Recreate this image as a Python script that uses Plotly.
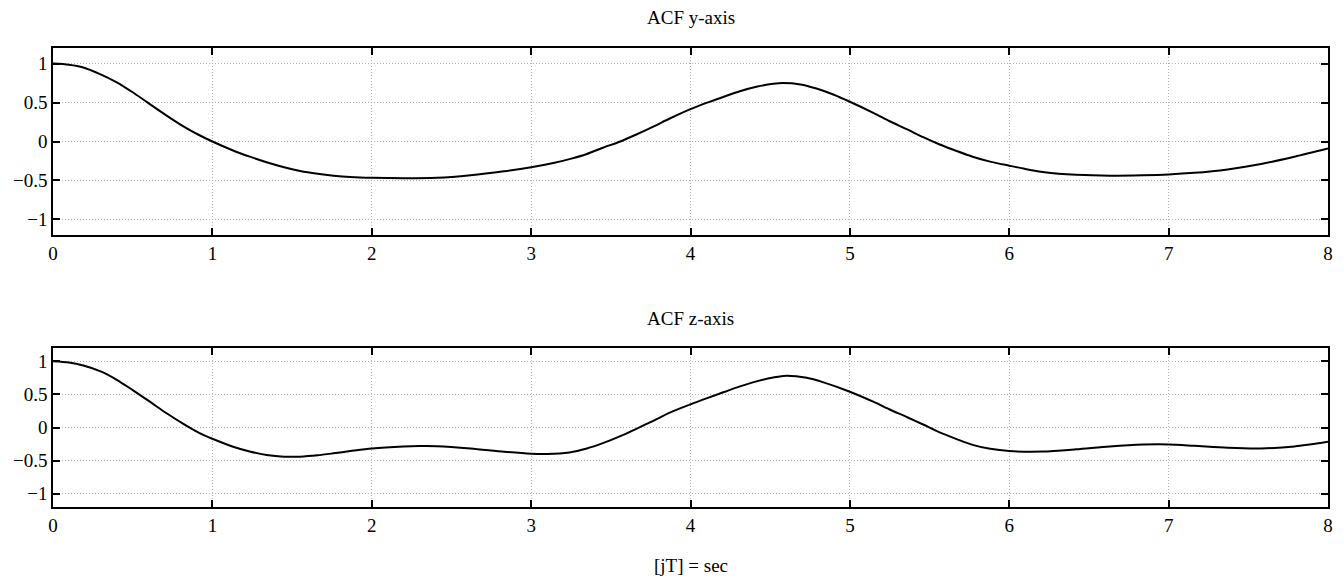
import plotly.graph_objects as go
from plotly.subplots import make_subplots

# Lag [sec]
lag_y = [0.0, 0.1, 0.19, 0.295, 0.4, 0.5, 0.588, 0.713, 0.818, 0.91, 1.0, 1.13, 1.24, 1.34, 1.45, 1.55, 1.66, 1.76, 1.865,
         2.0, 2.2, 2.41, 2.62, 2.83, 3.0, 3.14, 3.24, 3.35, 3.45, 3.56, 3.66, 3.77, 3.87,
         4.0, 4.1, 4.21, 4.31, 4.42, 4.52, 4.58, 4.69, 4.79, 4.9, 5.0, 5.15, 5.25, 5.36, 5.46, 5.56, 5.67, 5.77, 5.88,
         6.0, 6.1, 6.21, 6.31, 6.42, 6.63, 6.84, 7.0, 7.16, 7.37, 7.58, 7.79, 8.0]
acf_y = [1.0, 0.985, 0.95, 0.865, 0.76, 0.632, 0.508, 0.333, 0.195, 0.09, 0.0, -0.115, -0.198, -0.266, -0.33, -0.378, -0.414, -0.438, -0.455,
         -0.466, -0.472, -0.466, -0.433, -0.382, -0.33, -0.275, -0.226, -0.16, -0.08, 0.0, 0.09, 0.195, 0.295,
         0.415, 0.495, 0.575, 0.645, 0.705, 0.74, 0.75, 0.732, 0.68, 0.6, 0.51, 0.365, 0.26, 0.155, 0.055, -0.035, -0.122, -0.195, -0.258,
         -0.31, -0.352, -0.39, -0.414, -0.428, -0.438, -0.432, -0.422, -0.402, -0.358, -0.29, -0.195, -0.09]

lag_z = [0.0, 0.1, 0.19, 0.295, 0.4, 0.5, 0.61, 0.713, 0.818, 0.92, 1.0, 1.13, 1.24, 1.34, 1.45, 1.55, 1.66, 1.76, 1.865,
         2.0, 2.2, 2.3, 2.41, 2.62, 2.83, 3.0, 3.1, 3.24, 3.35, 3.45, 3.56, 3.66, 3.77, 3.87,
         4.0, 4.1, 4.21, 4.31, 4.42, 4.52, 4.6, 4.73, 4.83, 5.0, 5.15, 5.25, 5.36, 5.46, 5.56, 5.67, 5.77, 5.88,
         6.0, 6.21, 6.42, 6.63, 6.84, 7.0, 7.16, 7.37, 7.58, 7.79, 8.0]
acf_z = [1.0, 0.98, 0.935, 0.85, 0.72, 0.565, 0.386, 0.215, 0.055, -0.085, -0.17, -0.29, -0.366, -0.414, -0.44, -0.44, -0.42, -0.39, -0.356,
         -0.316, -0.286, -0.28, -0.282, -0.316, -0.366, -0.396, -0.40, -0.376, -0.316, -0.236, -0.13, -0.02, 0.105, 0.225,
         0.35, 0.44, 0.535, 0.62, 0.7, 0.755, 0.782, 0.75, 0.685, 0.54, 0.386, 0.272, 0.155, 0.045, -0.07, -0.175, -0.262, -0.322,
         -0.356, -0.364, -0.33, -0.286, -0.258, -0.256, -0.276, -0.306, -0.316, -0.286, -0.216]

x_ticks = [0, 1, 2, 3, 4, 5, 6, 7, 8]
y_ticks = [-1, -0.5, 0, 0.5, 1]
y_tick_text = ["\u22121", "\u22120.5", "0", "0.5", "1"]

FONT = "Liberation Serif"
FS = 19

W, H = 1336, 570          # page body has an 8px margin (overflow is not shown)
ML, MR, MT, MB = 45, 16, 40, 71
plot_h = H - MT - MB

fig = make_subplots(rows=2, cols=1, vertical_spacing=0.0)
fig.add_trace(go.Scatter(x=lag_y, y=acf_y, mode="lines", line=dict(color="black", width=2, shape="spline", smoothing=0.8),
                         showlegend=False), row=1, col=1)
fig.add_trace(go.Scatter(x=lag_z, y=acf_z, mode="lines", line=dict(color="black", width=2, shape="spline", smoothing=0.8),
                         showlegend=False), row=2, col=1)

axis_common = dict(showline=True, linecolor="black", linewidth=1.5, mirror="ticks",
                   ticks="inside", ticklen=7, tickwidth=1.5, tickcolor="black",
                   showgrid=True, gridcolor="#b4b4b4", gridwidth=1, griddash="1px,2px",
                   zeroline=False, automargin=False,
                   tickfont=dict(family=FONT, size=FS, color="black"))

fig.update_xaxes(**axis_common, range=[0, 8], tickvals=x_ticks)
fig.update_yaxes(**axis_common, range=[-1.2, 1.2], tickvals=y_ticks, ticktext=y_tick_text)


def paper_y(px_page):
    return (H - MB - (px_page - 8)) / plot_h


fig.update_layout(
    width=W, height=H,
    margin=dict(l=ML, r=MR, t=MT, b=MB),
    paper_bgcolor="white", plot_bgcolor="white",
    font=dict(family=FONT, size=FS, color="black"),
    xaxis=dict(domain=[0, 1]),
    yaxis=dict(domain=[0.5926, 1.0]),
    xaxis2=dict(domain=[0, 1]),
    yaxis2=dict(domain=[0.0, 0.3464]),
    annotations=[
        dict(text="ACF y-axis", x=0.5, xref="paper", y=paper_y(17), yref="paper", yanchor="middle",
             showarrow=False, font=dict(family=FONT, size=FS)),
        dict(text="ACF z-axis", x=0.5, xref="paper", y=paper_y(318), yref="paper", yanchor="middle",
             showarrow=False, font=dict(family=FONT, size=FS)),
        dict(text="[jT] = sec", x=0.5, xref="paper", y=paper_y(565), yref="paper", yanchor="middle",
             showarrow=False, font=dict(family=FONT, size=FS)),
    ],
)

fig.write_html("out.html")
